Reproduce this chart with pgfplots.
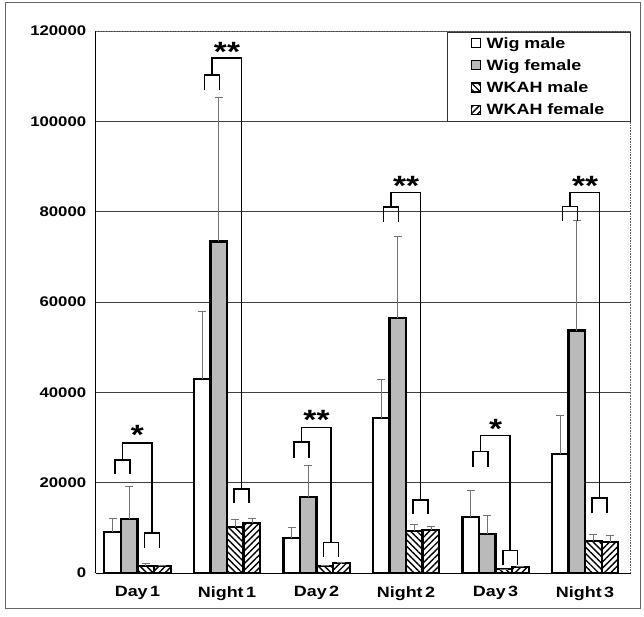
\documentclass[border=0pt]{standalone}
\usepackage{fontspec}
\setmainfont{Liberation Sans}[FakeStretch=1.2]
\usepackage{pgfplots}
\pgfplotsset{compat=1.18}
\usetikzlibrary{patterns,patterns.meta}

% Columns: x, value, plus-error
\pgfplotstableread{
x y e
0 9150 2950
1 42900 15100
2 7680 2440
3 34260 8640
4 12330 6050
5 26280 8720
}\wigmale
\pgfplotstableread{
x y e
0 11900 7370
1 73400 32000
2 16900 6870
3 56540 17950
4 8640 4210
5 53670 24510
}\wigfemale
\pgfplotstableread{
x y e
0 1600 600
1 10250 1700
2 1550 150
3 9300 1480
4 800 100
5 7090 1480
}\wkahmale
\pgfplotstableread{
x y e
0 1500 300
1 11140 960
2 2150 150
3 9450 800
4 1400 100
5 6930 1330
}\wkahfemale

% significance bracket: #1 group, #2 wig top, #3 wig bottom, #4 big top,
% #5 wkah top, #6 wkah bottom, #7 star y, #8 label
\newcommand{\sig}[8]{%
  \draw[black, line width=1.6bp]
    (axis cs:#1-0.25,#3) -- (axis cs:#1-0.25,#2) -- (axis cs:#1-0.085,#2) -- (axis cs:#1-0.085,#3);
  \draw[black, line width=1.6bp]
    (axis cs:#1+0.08,#6) -- (axis cs:#1+0.08,#5) -- (axis cs:#1+0.245,#5) -- (axis cs:#1+0.245,#6);
  \draw[black, line width=1.6bp]
    (axis cs:#1-0.1675,#2) -- (axis cs:#1-0.1675,#4) -- (axis cs:#1+0.1625,#4) -- (axis cs:#1+0.1625,#5);
  \node[anchor=base, inner sep=0pt, yshift=-15bp, font=\bfseries\fontsize{28}{28}\selectfont] at (axis cs:#1,#7) {#8};
}

\begin{document}
\begin{tikzpicture}
\useasboundingbox (-95.7bp,-44bp) rectangle (548.3bp,573bp);
\draw[black!60, line width=0.6bp] (-90.7bp,-35bp) rectangle (544.3bp,571bp);
\begin{axis}[
  at={(0,0)}, anchor=south west,
  scale only axis,
  width=535bp, height=542bp,
  ybar=0pt, bar width=0.185,
  xmin=-0.467, xmax=5.51,
  ymin=0, ymax=120000,
  scaled y ticks=false,
  ytick={0,20000,40000,60000,80000,100000,120000},
  yticklabels={0,20000,40000,60000,80000,100000,120000},
  ymajorgrids,
  major grid style={black!75, line width=0.6bp},
  ytick style={draw=none},
  xtick={0,1,2,3,4,5},
  xticklabels={Day\,1, Night\,1, Day\,2, Night\,2, Day\,3, Night\,3},
  xtick style={draw=none},
  minor xtick={0.5,1.5,2.5,3.5,4.5},
  minor x tick style={black, line width=0.6bp},
  minor tick length=4bp,
  tick align=inside,
  yticklabel style={font=\bfseries\fontsize{14}{16}\selectfont, xshift=-6bp},
  xticklabel style={font=\bfseries\fontsize{15}{17}\selectfont, yshift=-10bp},
  axis lines*=left,
  axis line style={-, black, line width=0.8bp},
  clip=false,
  legend style={
    at={(1,0.9985)}, anchor=north east,
    draw=black!80, line width=0.8bp,
    font=\bfseries\fontsize{15}{17}\selectfont,
    row sep=6bp, inner xsep=24bp, inner ysep=3bp,
    legend cell align=left,
  },
  legend image code/.code={
    \path[draw=none, fill=none] (0bp,0bp) -- (13bp,0bp);
    \draw[#1, line width=1.2pt] (0bp,-4bp) rectangle (9bp,5bp);
  },
  error bars/y dir=plus,
  error bars/y explicit,
  error bars/error bar style={black!55, line width=0.6bp},
  error bars/error mark options={rotate=90, mark size=4bp, black!55, line width=0.6bp},
]
\addplot[draw=black, line width=2.2bp, fill=white] table[x=x, y=y, y error=e] {\wigmale};
\addlegendentry{Wig male}
\addplot[draw=black, line width=2.2bp, fill=black!27] table[x=x, y=y, y error=e] {\wigfemale};
\addlegendentry{Wig female}
\addplot[draw=black, line width=2.2bp, pattern={Lines[angle=-45, distance=4.5bp, line width=1.4bp]}] table[x=x, y=y, y error=e] {\wkahmale};
\addlegendentry{WKAH male}
\addplot[draw=black, line width=2.2bp, pattern={Lines[angle=45, distance=4.5bp, line width=1.4bp]}] table[x=x, y=y, y error=e] {\wkahfemale};
\addlegendentry{WKAH female}

\draw[black!60, densely dotted, line width=0.6bp] (rel axis cs:0,1) -- (rel axis cs:1,1) -- (rel axis cs:1,0);

\sig{0}{25030}{21900}{28730}{8790}{5470}{31700}{*}
\sig{1}{110300}{107000}{114000}{18540}{15440}{116500}{**}
\sig{2}{28940}{25540}{32180}{6710}{3610}{35000}{**}
\sig{3}{81000}{77800}{84230}{16170}{13070}{87000}{**}
\sig{4}{26870}{23550}{30410}{4940}{1700}{33150}{*}
\sig{5}{81130}{78030}{84230}{16540}{13220}{87000}{**}
\end{axis}
\end{tikzpicture}
\end{document}
